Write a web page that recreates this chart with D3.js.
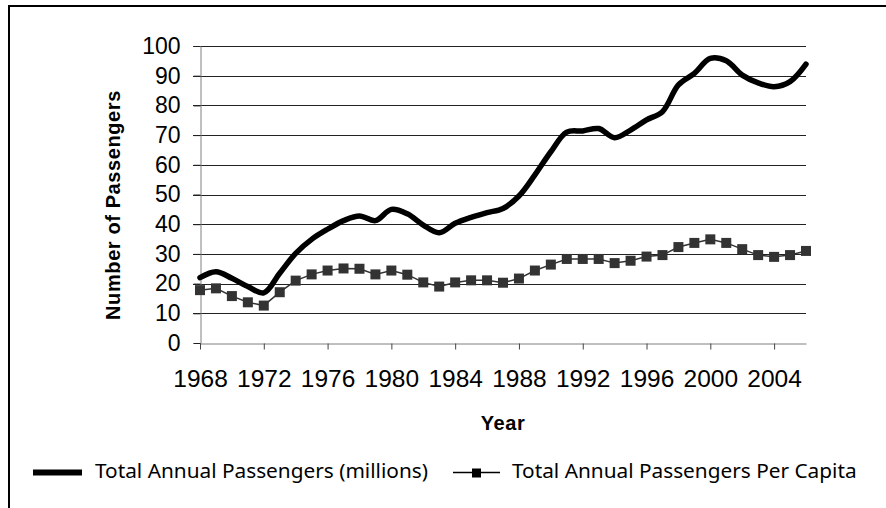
<!DOCTYPE html>
<html>
<head>
  <meta charset="utf-8">
  <title>Annual Passengers</title>
  <script src="https://d3js.org/d3.v7.min.js"></script>
  <style>
    body { margin: 0; background: #fff; }
  </style>
</head>
<body>
  <div id="chart"></div>

  <script>
    var years = d3.range(1968, 2007);
    var totalMillions = [22.0, 24.0, 21.8, 19.0, 16.9, 23.5, 30.2, 34.9, 38.3, 41.2,
                         42.8, 41.2, 45.0, 43.5, 39.7, 37.1, 40.3, 42.3, 43.9, 45.3,
                         49.5, 56.6, 64.4, 71.0, 71.4, 72.2, 69.1, 71.7, 75.1, 77.9,
                         86.9, 90.8, 95.8, 95.0, 90.2, 87.6, 86.3, 88.0, 93.9];
    var perCapita = [17.8, 18.4, 15.8, 13.7, 12.6, 17.1, 21.0, 23.1, 24.4, 25.1,
                     25.0, 23.1, 24.4, 23.0, 20.4, 19.0, 20.4, 21.1, 21.1, 20.3,
                     21.7, 24.4, 26.4, 28.3, 28.3, 28.3, 26.9, 27.7, 29.1, 29.6,
                     32.3, 33.7, 34.9, 33.7, 31.6, 29.6, 29.0, 29.6, 31.0];
    var yTicks = d3.range(0, 101, 10);
    var xTicks = d3.range(1968, 2005, 4);
    var seriesNames = ["Total Annual Passengers (millions)", "Total Annual Passengers Per Capita"];

    var width = 886, height = 508;
    var svg = d3.select("#chart").append("svg")
      .attr("width", width)
      .attr("height", height);

    // frame (only left and top edges are visible)
    svg.append("path")
      .attr("d", "M9," + height + "V6H" + width)
      .attr("fill", "none")
      .attr("stroke", "#000")
      .attr("stroke-width", 2);

    var x = d3.scaleLinear().domain([1968, 2006]).range([200, 806]);
    var y = d3.scaleLinear().domain([0, 100]).range([343, 46]);

    // gridlines
    svg.append("g")
      .selectAll("line")
      .data(yTicks.filter(function(d) { return d > 0; }))
      .enter().append("line")
      .attr("x1", 193).attr("x2", x(2006))
      .attr("y1", function(d) { return Math.round(y(d)) + 0.5; })
      .attr("y2", function(d) { return Math.round(y(d)) + 0.5; })
      .attr("stroke", "#222")
      .attr("stroke-width", 1);

    // y axis
    var yAxis = svg.append("g")
      .attr("transform", "translate(200.5,0)")
      .call(d3.axisLeft(y).tickValues(yTicks).tickSize(7).tickPadding(13));
    yAxis.select(".domain").attr("stroke", "#808080");
    yAxis.selectAll(".tick line").attr("stroke", "#222");
    yAxis.selectAll("text")
      .attr("font-family", "Liberation Sans, Arial, sans-serif")
      .attr("font-size", 23)
      .attr("fill", "#000");

    // x axis
    var xAxis = svg.append("g")
      .attr("transform", "translate(0," + (Math.round(y(0)) + 0.5) + ")")
      .call(d3.axisBottom(x).tickValues(xTicks).tickSize(6).tickSizeOuter(0)
        .tickPadding(20).tickFormat(d3.format("d")));
    xAxis.select(".domain").attr("stroke", "#808080");
    xAxis.selectAll(".tick line").attr("stroke", "#444");
    xAxis.selectAll("text")
      .attr("font-family", "Liberation Sans, Arial, sans-serif")
      .attr("font-size", 24.5)
      .attr("fill", "#000");

    // axis titles
    svg.append("text")
      .attr("x", (x(1968) + x(2006)) / 2)
      .attr("y", 430)
      .attr("text-anchor", "middle")
      .attr("font-family", "Liberation Sans, Arial, sans-serif")
      .attr("font-weight", "bold")
      .attr("font-size", 20)
      .attr("letter-spacing", 0.6)
      .text("Year");

    svg.append("text")
      .attr("transform", "translate(120,205) rotate(-90)")
      .attr("text-anchor", "middle")
      .attr("font-family", "Liberation Sans, Arial, sans-serif")
      .attr("font-weight", "bold")
      .attr("font-size", 20)
      .attr("letter-spacing", 0.6)
      .text("Number of Passengers");

    // per capita series
    var capitaLine = d3.line()
      .x(function(d, i) { return x(years[i]); })
      .y(function(d) { return y(d); });

    svg.append("path")
      .datum(perCapita)
      .attr("d", capitaLine)
      .attr("fill", "none")
      .attr("stroke", "#333")
      .attr("stroke-width", 1.5);

    svg.append("g")
      .selectAll("rect")
      .data(perCapita)
      .enter().append("rect")
      .attr("x", function(d, i) { return x(years[i]) - 5; })
      .attr("y", function(d) { return y(d) - 5; })
      .attr("width", 10)
      .attr("height", 10)
      .attr("fill", "#333");

    // total passengers series (smoothed)
    var totalLine = d3.line()
      .curve(d3.curveCatmullRom.alpha(0.5))
      .x(function(d, i) { return x(years[i]); })
      .y(function(d) { return y(d); });

    svg.append("path")
      .datum(totalMillions)
      .attr("d", totalLine)
      .attr("fill", "none")
      .attr("stroke", "#000")
      .attr("stroke-width", 5.5)
      .attr("stroke-linejoin", "round")
      .attr("stroke-linecap", "round");

    // legend
    var legend = svg.append("g")
      .attr("font-family", "Noto Sans, Open Sans, sans-serif")
      .attr("font-size", 20.8)
      .attr("fill", "#000");

    legend.append("line")
      .attr("x1", 33).attr("x2", 82)
      .attr("y1", 472.5).attr("y2", 472.5)
      .attr("stroke", "#000")
      .attr("stroke-width", 6);
    legend.append("text")
      .attr("x", 95).attr("y", 478)
      .text(seriesNames[0]);

    legend.append("line")
      .attr("x1", 453).attr("x2", 500)
      .attr("y1", 472.5).attr("y2", 472.5)
      .attr("stroke", "#000")
      .attr("stroke-width", 1.5);
    legend.append("rect")
      .attr("x", 472).attr("y", 468.5)
      .attr("width", 9).attr("height", 9)
      .attr("fill", "#000");
    legend.append("text")
      .attr("x", 512).attr("y", 478)
      .text(seriesNames[1]);
  </script>
</body>
</html>
